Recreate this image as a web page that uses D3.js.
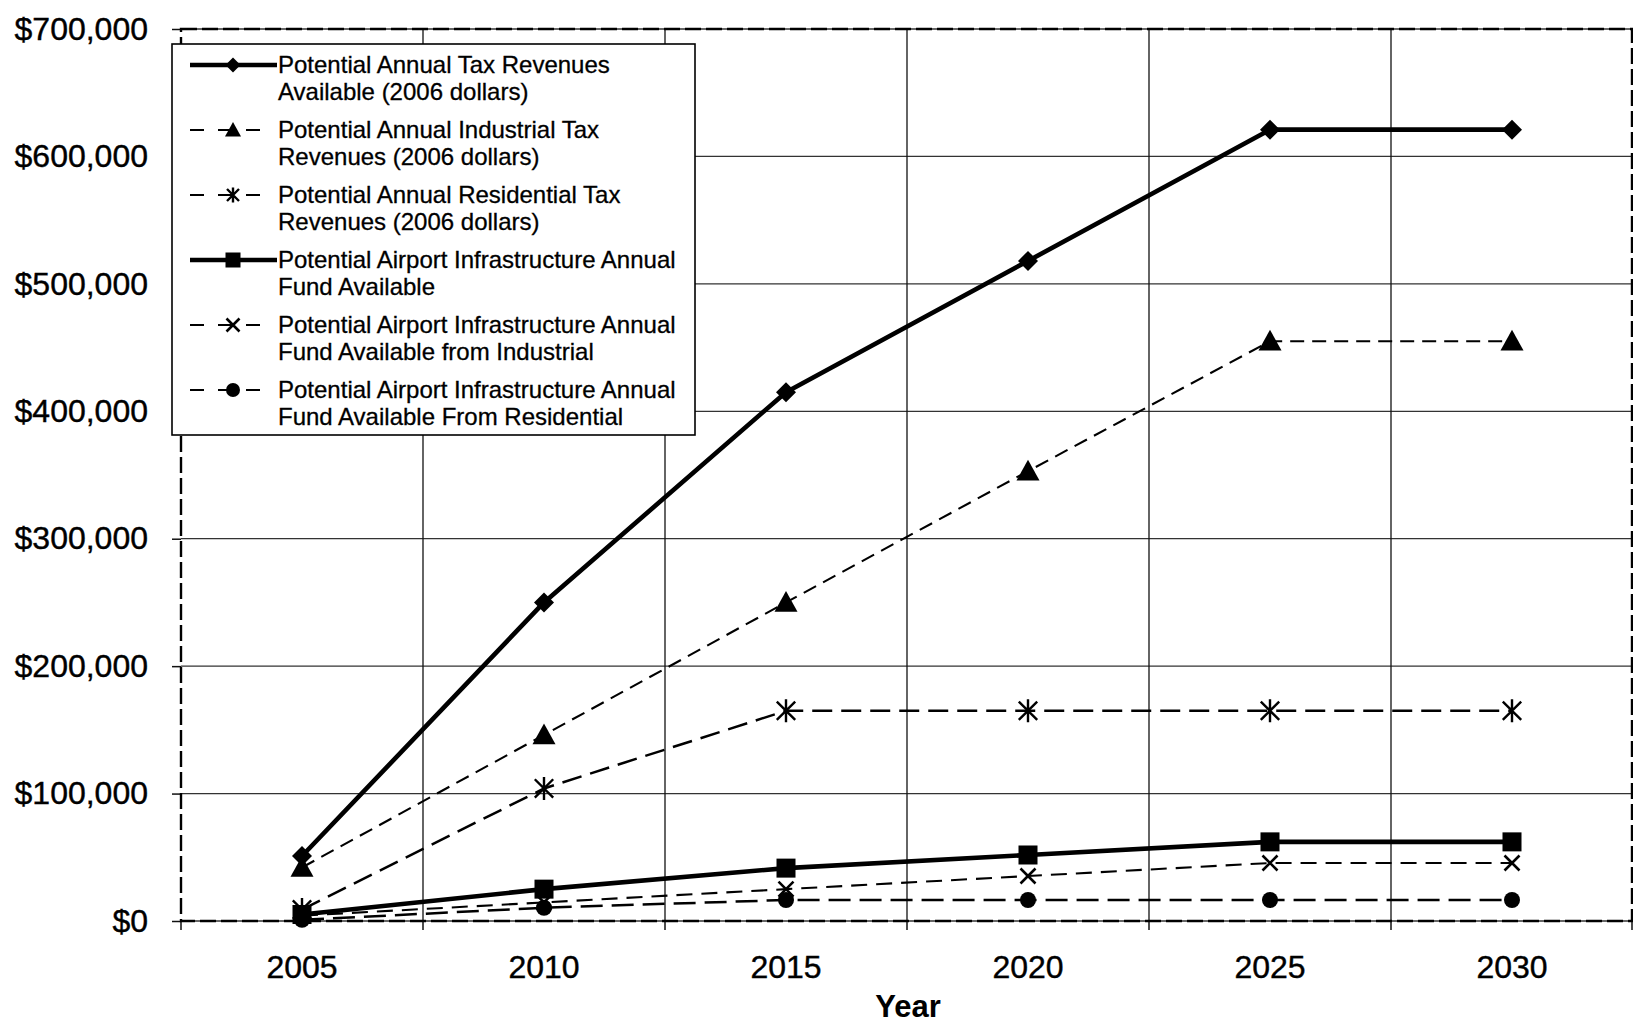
<!DOCTYPE html>
<html>
<head>
<meta charset="utf-8">
<script src="https://cdn.jsdelivr.net/npm/d3@7"></script>
<style>
  html, body { margin: 0; padding: 0; background: #fff; }
  svg { display: block; font-family: "Liberation Sans", Arial, sans-serif; }
</style>
</head>
<body>
<svg id="chart" width="1633" height="1025"></svg>
<script>
// Years on the category axis
const years = ["2005", "2010", "2015", "2020", "2025", "2030"];

// Tax revenue projections (2006 dollars)
const totalTax       = [51000, 250000, 415000, 518000, 621000, 621000];
const industrialTax  = [42000, 146000, 250000, 353000, 455000, 455000];
const residentialTax = [9000, 104000, 165000, 165000, 165000, 165000];

// Airport infrastructure fund projections
const fundTotal       = [5100, 25000, 41500, 51800, 62100, 62100];
const fundIndustrial  = [4200, 14600, 25000, 35300, 45500, 45500];
const fundResidential = [900, 10400, 16500, 16500, 16500, 16500];

// Y axis tick values
const yTicks = [0, 100000, 200000, 300000, 400000, 500000, 600000, 700000];

const seriesLabels = [
  ["Potential Annual Tax Revenues", "Available (2006 dollars)"],
  ["Potential Annual Industrial Tax", "Revenues (2006 dollars)"],
  ["Potential Annual Residential Tax", "Revenues (2006 dollars)"],
  ["Potential Airport Infrastructure Annual", "Fund Available"],
  ["Potential Airport Infrastructure Annual", "Fund Available from Industrial"],
  ["Potential Airport Infrastructure Annual", "Fund Available From Residential"]
];

const series = [
  { values: totalTax,        marker: "diamond",  width: 4.6, dash: null,    size: 20, legendSize: 15 },
  { values: industrialTax,   marker: "triangle", width: 2.1, dash: "14,8",  size: 23, legendSize: 16 },
  { values: residentialTax,  marker: "star",     width: 2.5, dash: "20,9",  size: 23, legendSize: 15 },
  { values: fundTotal,       marker: "square",   width: 4.6, dash: null,    size: 19, legendSize: 15 },
  { values: fundIndustrial,  marker: "x",        width: 2.1, dash: "16,9",  size: 15, legendSize: 13 },
  { values: fundResidential, marker: "circle",   width: 2.5, dash: "22,9",  size: 16, legendSize: 14 }
].map((s, i) => Object.assign(s, { label: seriesLabels[i] }));

const svg = d3.select("#chart");
const plotLeft = 181, plotRight = 1633, plotTop = 29, plotBottom = 921;

const x = d3.scaleBand().domain(years).range([plotLeft, plotRight]).padding(0);
const y = d3.scaleLinear().domain([0, 700000]).range([plotBottom, plotTop]);
const cx = d => x(d) + x.bandwidth() / 2;

// Horizontal gridlines
svg.append("g")
  .selectAll("line")
  .data(yTicks)
  .join("line")
  .attr("x1", plotLeft).attr("x2", plotRight)
  .attr("y1", d => y(d)).attr("y2", d => y(d))
  .attr("stroke", "#333").attr("stroke-width", 1.3);

// Vertical gridlines at category boundaries
svg.append("g")
  .selectAll("line")
  .data(years.slice(1))
  .join("line")
  .attr("x1", d => x(d)).attr("x2", d => x(d))
  .attr("y1", plotTop).attr("y2", plotBottom)
  .attr("stroke", "#111").attr("stroke-width", 1.3);

// Boundary tick marks below the category axis
svg.append("g")
  .selectAll("line")
  .data(years.concat(["end"]))
  .join("line")
  .attr("x1", (d, i) => i < years.length ? x(d) : plotRight - 1)
  .attr("x2", (d, i) => i < years.length ? x(d) : plotRight - 1)
  .attr("y1", plotBottom).attr("y2", plotBottom + 9)
  .attr("stroke", "#111").attr("stroke-width", 1.5);

// Y axis with currency labels
const yAxis = d3.axisLeft(y)
  .tickValues(yTicks)
  .tickFormat(d3.format("$,"))
  .tickSize(9)
  .tickPadding(22);
const yg = svg.append("g").attr("transform", `translate(${plotLeft},0)`).call(yAxis);
yg.select(".domain").remove();
yg.selectAll(".tick line").attr("stroke", "#111").attr("stroke-width", 1.5);
yg.selectAll(".tick text")
  .attr("font-size", 32).attr("fill", "#000")
  .attr("stroke", "#000").attr("stroke-width", 0.4)
  .attr("font-family", "'Liberation Sans', Arial, sans-serif")
  .attr("dy", "0.32em").attr("dx", "-2");

// X axis labels
const xAxis = d3.axisBottom(x).tickSize(0).tickPadding(34);
const xg = svg.append("g").attr("transform", `translate(0,${plotBottom})`).call(xAxis);
xg.select(".domain").remove();
xg.selectAll(".tick text")
  .attr("font-size", 32).attr("fill", "#000")
  .attr("stroke", "#000").attr("stroke-width", 0.4)
  .attr("font-family", "'Liberation Sans', Arial, sans-serif");

// Axis title
svg.append("text")
  .attr("x", 908).attr("y", 1017)
  .attr("text-anchor", "middle")
  .attr("font-size", 31).attr("font-weight", "bold")
  .text("Year");

// Plot area border (dashed)
svg.append("rect")
  .attr("x", plotLeft).attr("y", plotTop)
  .attr("width", plotRight - plotLeft - 1).attr("height", plotBottom - plotTop)
  .attr("fill", "none")
  .attr("stroke", "#000").attr("stroke-width", 2.4)
  .attr("stroke-dasharray", "16,5");

// Marker shapes
function drawMarker(g, type, px, py, size) {
  const h = size / 2;
  if (type === "diamond") {
    g.append("path").attr("d", `M${px},${py - h}L${px + h},${py}L${px},${py + h}L${px - h},${py}Z`).attr("fill", "#000");
  } else if (type === "triangle") {
    g.append("path").attr("d", `M${px},${py - h}L${px + h},${py + h * 0.8}L${px - h},${py + h * 0.8}Z`).attr("fill", "#000");
  } else if (type === "square") {
    g.append("rect").attr("x", px - h).attr("y", py - h).attr("width", size).attr("height", size).attr("fill", "#000");
  } else if (type === "circle") {
    g.append("circle").attr("cx", px).attr("cy", py).attr("r", h).attr("fill", "#000");
  } else if (type === "x") {
    g.append("path").attr("d", `M${px - h},${py - h}L${px + h},${py + h}M${px - h},${py + h}L${px + h},${py - h}`)
      .attr("stroke", "#000").attr("stroke-width", 2.6).attr("fill", "none");
  } else if (type === "star") {
    const d = h * 0.8;
    g.append("path").attr("d", `M${px - d},${py - d}L${px + d},${py + d}M${px - d},${py + d}L${px + d},${py - d}M${px},${py - h}L${px},${py + h}`)
      .attr("stroke", "#000").attr("stroke-width", 2.4).attr("fill", "none");
  }
}

// Series lines and markers, bottom-most drawn first
const lineGen = d3.line().x((d, i) => cx(years[i])).y(d => y(d));
const plot = svg.append("g");
series.slice().reverse().forEach(s => {
  plot.append("path")
    .datum(s.values)
    .attr("d", lineGen)
    .attr("fill", "none")
    .attr("stroke", "#000")
    .attr("stroke-width", s.width)
    .attr("stroke-linejoin", "round")
    .attr("stroke-dasharray", s.dash);
  const mg = plot.append("g");
  s.values.forEach((v, i) => drawMarker(mg, s.marker, cx(years[i]), y(v), s.size));
});

// Legend
const lg = svg.append("g");
lg.append("rect")
  .attr("x", 172).attr("y", 44).attr("width", 523).attr("height", 391)
  .attr("fill", "#fff").attr("stroke", "#000").attr("stroke-width", 1.6);

series.forEach((s, i) => {
  const ry = 65 + i * 65;
  lg.append("line")
    .attr("x1", 190).attr("x2", s.dash ? 264 : 277)
    .attr("y1", ry).attr("y2", ry)
    .attr("stroke", "#000")
    .attr("stroke-width", s.dash ? 2 : 4.4)
    .attr("stroke-dasharray", s.dash ? "14,14" : null);
  drawMarker(lg, s.marker, 233, ry, s.legendSize);
  const t = lg.append("text")
    .attr("x", 278).attr("y", ry)
    .attr("font-size", 24).attr("fill", "#000")
    .attr("stroke", "#000").attr("stroke-width", 0.3);
  s.label.forEach((line, j) => {
    t.append("tspan").attr("x", 278).attr("dy", j === 0 ? "0.35em" : 27).text(line);
  });
});
</script>
</body>
</html>
